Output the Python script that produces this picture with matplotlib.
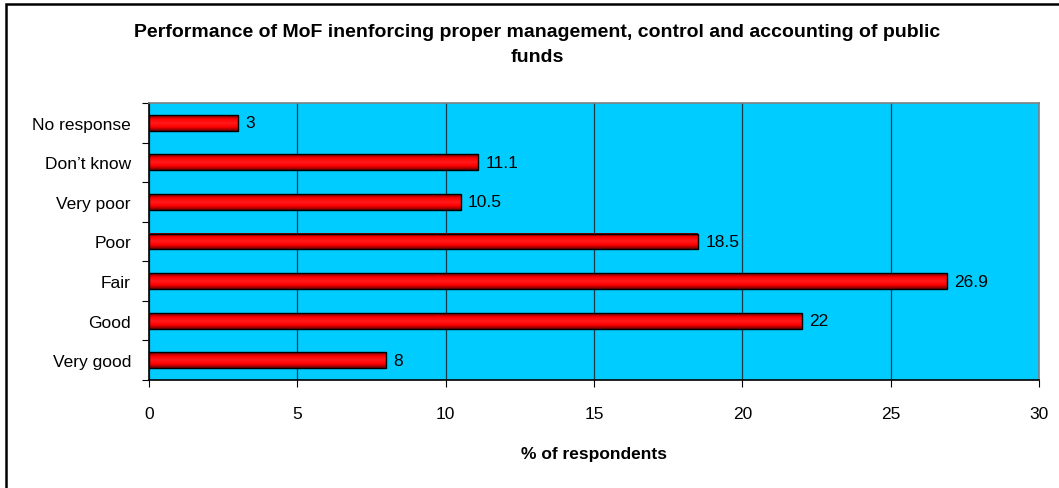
import numpy as np
import matplotlib.pyplot as plt
from matplotlib.patches import Rectangle
from matplotlib.colors import LinearSegmentedColormap

categories = ['Very good', 'Good', 'Fair', 'Poor', 'Very poor', 'Don\u2019t know', 'No response']
values = [8, 22, 26.9, 18.5, 10.5, 11.1, 3]
value_labels = ['8', '22', '26.9', '18.5', '10.5', '11.1', '3']
xticks = [0, 5, 10, 15, 20, 25, 30]

plt.rcParams['font.family'] = ['Liberation Sans', 'DejaVu Sans']

fig = plt.figure(figsize=(10.59, 4.89), dpi=100)
ax = fig.add_axes([149 / 1059, 1 - 381 / 489, 890 / 1059, 277 / 489])
ax.set_facecolor('#00ccff')

# figure border (left and top only visible)
fig.add_artist(Rectangle((6 / 1059, -0.1), 1.2, 1 - 5 / 489 + 0.1, transform=fig.transFigure,
                         fill=False, edgecolor='black', linewidth=1.8))

pos = np.arange(len(categories))
h = 0.4
red_cmap = LinearSegmentedColormap.from_list('redgrad', ['#6a0000', '#ff0000', '#ff1a1a', '#ff0000', '#6a0000'])
grad = np.linspace(0, 1, 64).reshape(-1, 1)
for y, v in zip(pos, values):
    ax.imshow(grad, cmap=red_cmap, aspect='auto', extent=(0, v, y - h / 2, y + h / 2),
              zorder=3, interpolation='bilinear')
ax.barh(pos, values, height=h, facecolor='none', edgecolor='black', linewidth=1.0, zorder=4)
for y, v, lab in zip(pos, values, value_labels):
    ax.text(v + 0.25, y, lab, va='center', ha='left', fontsize=12.5, zorder=5)

ax.set_xlim(0, 30)
ax.set_ylim(-0.5, len(categories) - 0.5)
ax.set_xticks(xticks)
ax.set_xticklabels([str(t) for t in xticks], fontsize=12.5)
ax.set_yticks(np.arange(-0.5, len(categories), 1.0))
ax.set_yticklabels([])
ax.set_yticks(pos, minor=True)
ax.set_yticklabels(categories, minor=True, fontsize=12.5)
ax.tick_params(axis='y', which='minor', length=0, pad=13)
ax.tick_params(axis='y', which='major', length=5, direction='out', color='black')
ax.tick_params(axis='x', length=5, direction='out', pad=14, color='black')
ax.grid(axis='x', color='#1a3a4a', linewidth=0.9, zorder=1)
ax.set_axisbelow(True)

ax.spines['left'].set_color('black')
ax.spines['bottom'].set_color('black')
ax.spines['top'].set_color('#808080')
ax.spines['right'].set_color('#808080')
for s in ax.spines.values():
    s.set_linewidth(1.2)

ax.set_xlabel('% of respondents', fontsize=12.5, fontweight='bold', labelpad=18)
fig.text(537 / 1059, 1 - 45 / 489,
         'Performance of MoF inenforcing proper management, control and accounting of public\nfunds',
         ha='center', va='center', fontsize=14, fontweight='bold', linespacing=1.65)

fig.savefig('out.png', dpi=100)
